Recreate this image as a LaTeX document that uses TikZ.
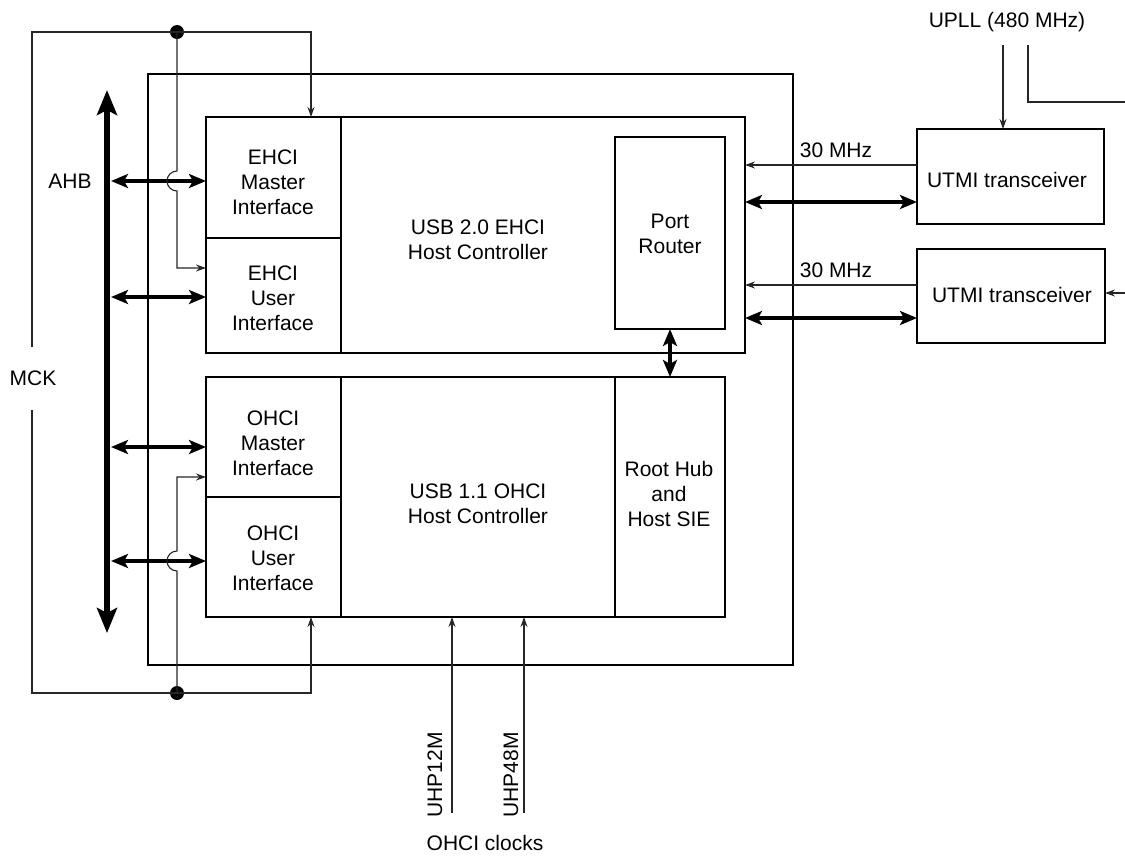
\documentclass[tikz,border=0pt]{standalone}
\usepackage{fontspec}
\setmainfont{Liberation Sans}
\usetikzlibrary{arrows.meta,calc}
\begin{document}
\begin{tikzpicture}[x=1pt,y=-1pt,
  box/.style={draw, line width=2.2pt, inner sep=0pt, outer sep=0pt},
  lbl/.style={align=center, font=\fontsize{21}{25}\selectfont, inner sep=0pt},
  clk/.style={line width=1.1pt, color=black!85, -{Stealth[length=10pt,width=7pt]}},
  wire/.style={line width=1.1pt, color=black!85},
  bus/.style={line width=4pt, {Stealth[length=17pt,width=14pt,inset=4pt]}-{Stealth[length=17pt,width=14pt,inset=4pt]}},
  mainbus/.style={line width=6pt, {Stealth[length=25pt,width=20pt,inset=5pt]}-{Stealth[length=25pt,width=20pt,inset=5pt]}},
  dot/.style={circle, fill=black, inner sep=0pt, minimum size=14pt}
]
\useasboundingbox (0,0) rectangle (1125,855);

% boxes
\node[box, minimum width=645pt, minimum height=591pt] (frame) at (470.5,369.5) {};
\node[box, minimum width=539pt, minimum height=236pt] (ehci) at (475.5,235) {};
\node[box, minimum width=135pt, minimum height=121pt] (emaster) at (273.5,177.5) {};
\node[box, minimum width=135pt, minimum height=115pt] (euser) at (273.5,295.5) {};
\node[box, minimum width=110pt, minimum height=192pt] (router) at (670,233) {};
\node[box, minimum width=519pt, minimum height=240pt] (ohci) at (465.5,497) {};
\node[box, minimum width=135pt, minimum height=120pt] (omaster) at (273.5,437) {};
\node[box, minimum width=135pt, minimum height=120pt] (ouser) at (273.5,557) {};
\node[box, minimum width=110pt, minimum height=240pt] (roothub) at (670,497) {};
\node[box, minimum width=187pt, minimum height=95pt] (utmi1) at (1010.5,176.5) {};
\node[box, minimum width=188pt, minimum height=94pt] (utmi2) at (1011,296) {};

% texts
\node[lbl] (emastert) at (273,182) {EHCI\\Master\\Interface};
\node[lbl] (eusert) at (273,298) {EHCI\\User\\Interface};
\node[lbl] (ehcit) at (478,240) {USB 2.0 EHCI\\Host Controller};
\node[lbl] (routert) at (670,234) {Port\\Router};
\node[lbl] (omastert) at (273,443) {OHCI\\Master\\Interface};
\node[lbl] (ousert) at (273,558) {OHCI\\User\\Interface};
\node[lbl] (ohcit) at (478,504) {USB 1.1 OHCI\\Host Controller};
\node[lbl] (roothubt) at (669,494) {Root Hub\\and\\Host SIE};
\node[lbl] (utmi1t) at (1007,180) {UTMI transceiver};
\node[lbl] (utmi2t) at (1012,295) {UTMI transceiver};
\node[lbl] (ahb) at (70,181) {AHB};
\node[lbl] (mck) at (33,378) {MCK};
\node[lbl] (upll) at (1007,22) {UPLL (480 MHz)};
\node[lbl] (mhz1) at (836,150) {30 MHz};
\node[lbl] (mhz2) at (836,270) {30 MHz};
\node[lbl, rotate=90] (uhp12) at (435,775) {UHP12M};
\node[lbl, rotate=90] (uhp48) at (511,775) {UHP48M};
\node[lbl] (ohciclk) at (485,843) {OHCI clocks};

% AHB main bus
\coordinate (ahbtop) at (107,90);
\coordinate (ahbbot) at (107,633);
\draw[mainbus] (ahbtop) -- (ahbbot);

% bus connections to interfaces
\coordinate (b1) at (111,181);
\coordinate (b2) at (111,297);
\coordinate (b3) at (111,447);
\coordinate (b4) at (111,561);
\draw[bus] (b1) -- (b1 -| emaster.west);
\draw[bus] (b2) -- (b2 -| euser.west);
\draw[bus] (b3) -- (b3 -| omaster.west);
\draw[bus] (b4) -- (b4 -| ouser.west);

% MCK wiring
\coordinate (mckT) at (32,347);
\coordinate (mckB) at (32,410);
\node[dot] (dotT) at (177,32) {};
\node[dot] (dotB) at (177,693) {};
\coordinate (emtop) at ([xshift=105pt]emaster.north west);
\coordinate (oubot) at ([xshift=105pt]ouser.south west);
\draw[clk] (mckT) |- (emtop |- dotT) -- (emtop);
\draw[clk] (mckB) |- (oubot |- dotB) -- (oubot);
\coordinate (eu) at (177,268);
\coordinate (om) at (177,477);
\draw[clk] (dotT.center) -- (177,171) arc[start angle=270, end angle=90, radius=10] -- (eu) -- (eu -| euser.west);
\draw[clk] (dotB.center) -- (177,571) arc[start angle=90, end angle=270, radius=10] -- (om) -- (om -| omaster.west);

% port router <-> root hub
\draw[bus] (router.south) -- (roothub.north);

% UTMI connections
\coordinate (c1) at (917,165);
\coordinate (c2) at (917,285);
\draw[clk] (c1) -- (c1 -| ehci.east);
\draw[clk] (c2) -- (c2 -| ehci.east);
\coordinate (d1) at (917,202);
\coordinate (d2) at (917,318);
\draw[bus] (d1 -| ehci.east) -- (d1);
\draw[bus] (d2 -| ehci.east) -- (d2);

% UPLL
\coordinate (u1) at (1003,45);
\draw[clk] (u1) -- (u1 |- utmi1.north);
\coordinate (u2) at (1028,45);
\coordinate (u2end) at (1125,102);
\draw[wire] (u2) |- (u2end);
\coordinate (u3) at (1125,293);
\draw[clk] (u3) -- (u3 -| utmi2.east);

% OHCI clocks
\coordinate (h12) at (452,813);
\coordinate (h48) at (524,813);
\draw[clk] (h12) -- (h12 |- ohci.south);
\draw[clk] (h48) -- (h48 |- ohci.south);
\end{tikzpicture}
\end{document}
